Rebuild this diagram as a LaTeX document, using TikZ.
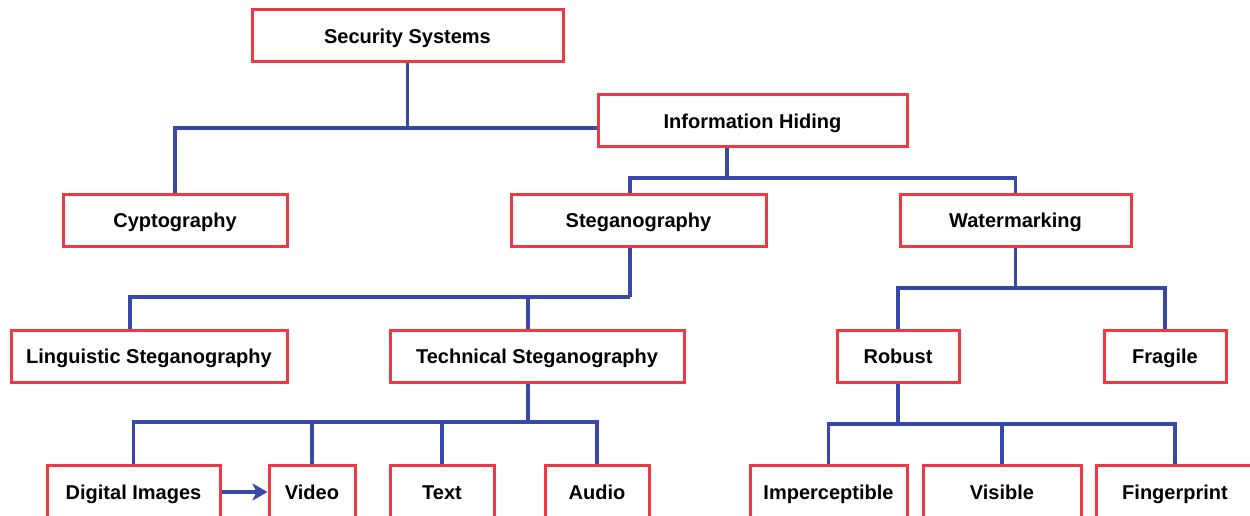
\documentclass[tikz,border=0pt]{standalone}
\usepackage{fontspec}
\setmainfont{Liberation Sans}
\usetikzlibrary{arrows.meta}
\definecolor{boxred}{RGB}{238,56,66}
\definecolor{linkblue}{RGB}{56,72,170}
\begin{document}
\begin{tikzpicture}[x=1pt,y=-1pt,
  box/.style={draw=boxred, line width=3pt, fill=white, inner sep=0pt,
    text height=14.5pt, text depth=0pt,
    font=\fontsize{20}{24}\selectfont\bfseries},
  link/.style={draw=linkblue, line width=3.8pt}]
\useasboundingbox (0,0) rectangle (1250,516);
% nodes
\node[box, minimum width=311pt, minimum height=52pt] (ss) at (407.5,36) {Security Systems};
\node[box, minimum width=309pt, minimum height=52pt] (ih) at (752.5,121) {Information Hiding};
\node[box, minimum width=224pt, minimum height=52pt] (cy) at (175,220) {Cyptography};
\node[box, minimum width=255pt, minimum height=52pt] (st) at (638.5,220) {Steganography};
\node[box, minimum width=231pt, minimum height=52pt] (wm) at (1015.5,220) {Watermarking};
\node[box, minimum width=276pt, minimum height=52pt] (li) at (149,356) {Linguistic Steganography};
\node[box, minimum width=294pt, minimum height=52pt] (te) at (537,356) {Technical Steganography};
\node[box, minimum width=122pt, minimum height=52pt] (ro) at (898,356) {Robust};
\node[box, minimum width=122pt, minimum height=52pt] (fr) at (1165,356) {Fragile};
\node[box, minimum width=173pt, minimum height=54pt] (di) at (133.5,492) {Digital Images};
\node[box, minimum width=86pt, minimum height=54pt] (vi) at (312,492) {Video};
\node[box, minimum width=104pt, minimum height=54pt] (tx) at (442,492) {Text};
\node[box, minimum width=104pt, minimum height=54pt] (au) at (597,492) {Audio};
\node[box, minimum width=157pt, minimum height=54pt] (im) at (828.5,492) {Imperceptible};
\node[box, minimum width=158pt, minimum height=54pt] (vs) at (1002,492) {Visible};
\node[box, minimum width=158pt, minimum height=54pt] (fp) at (1175,492) {Fingerprint};
% junctions
\coordinate (j1) at (407.5,128);
\coordinate (j2) at (727,178);
\coordinate (j3) at (630,297);
\coordinate (j4) at (528,422);
\coordinate (j5) at (1015.5,288);
\coordinate (j6) at (898,424);
% connectors
\draw[link] (ss.south) -- (j1);
\draw[link] (cy.north) |- ([yshift=-7pt]ih.west);
\draw[link] (ih.south -| j2) -- (j2);
\draw[link] ([xshift=-8.5pt]st.north) |- (j2) -| (wm.north);
\draw[link] ([xshift=-8.5pt]st.south) -- (j3);
\draw[link] ([xshift=-19pt]li.north) |- (j3);
\draw[link] ([xshift=-9pt]te.north) -- ([xshift=-9pt]te.north |- j3);
\draw[link] ([xshift=-9pt]te.south) -- (j4);
\draw[link] (di.north) |- (j4) -| (au.north);
\draw[link] (vi.north) -- (vi.north |- j4);
\draw[link] (tx.north) -- (tx.north |- j4);
\draw[link, -{Stealth[length=15pt,width=17pt,inset=4pt]}] (di.east) -- (vi.west);
\draw[link] (wm.south) -- (j5);
\draw[link] (ro.north) |- (j5) -| (fr.north);
\draw[link] (ro.south) -- (j6);
\draw[link] (im.north) |- (j6) -| (fp.north);
\draw[link] (vs.north) -- (vs.north |- j6);
\end{tikzpicture}
\end{document}
